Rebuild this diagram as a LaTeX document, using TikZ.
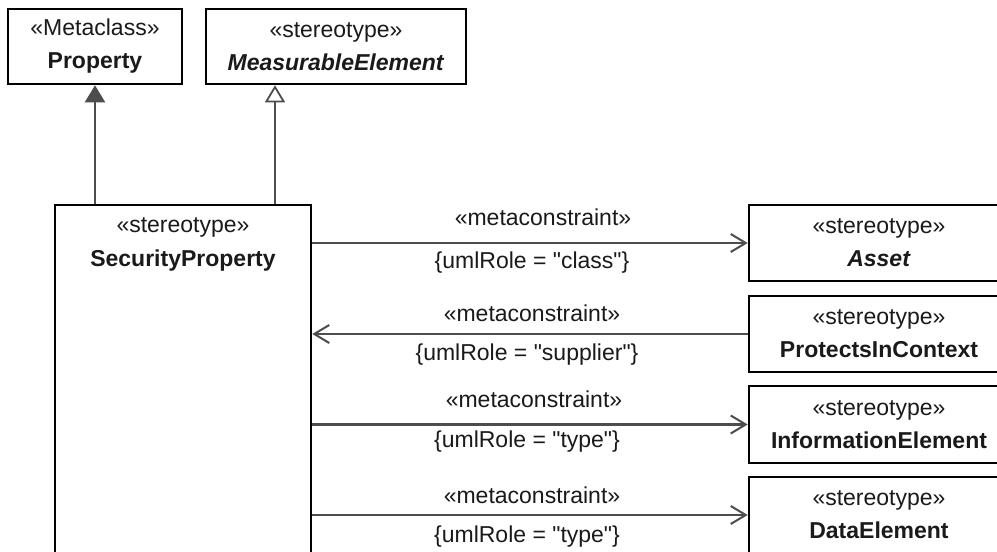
\documentclass[tikz,border=0pt]{standalone}
\usepackage{fontspec}
\setmainfont{Liberation Sans}[Ligatures=TeXOff]
\usetikzlibrary{arrows.meta}
\definecolor{conn}{HTML}{4D4D4D}
\definecolor{txt}{HTML}{1A1A1A}
\begin{document}
\begin{tikzpicture}[x=1pt,y=-1pt,
  umlbox/.style={draw=black,line width=2.6pt,rectangle,inner sep=0pt,align=center,
    text=txt,font=\fontsize{23}{33}\selectfont},
  lbl/.style={inner sep=0pt,text=txt,font=\fontsize{23}{28}\selectfont},
  conline/.style={draw=conn,line width=2.2pt},
  dep/.style={conline,-{Straight Barb[length=15pt,width=18pt,line width=2pt]}},
  genfill/.style={conline,-{Triangle[length=17pt,width=20pt,fill=conn]}},
  genopen/.style={conline,-{Triangle[open,length=17pt,width=20pt,fill=white,line width=1.8pt]}}
]
\useasboundingbox (0,0) rectangle (997,552);
\clip (0,0) rectangle (997,552);
\fill[white] (0,0) rectangle (997,552);

% top boxes
\node[umlbox,minimum width=174pt,minimum height=75pt] (prop) at (95,46.5)
  {«Metaclass»\\\textbf{Property}};
\node[umlbox,minimum width=260pt,minimum height=75pt] (meas) at (336,46.5)
  {«stereotype»\\\textbf{\textit{MeasurableElement}}};

% main box
\node[umlbox,minimum width=256pt,minimum height=360pt] (sec) at (183,385) {};
\node[lbl,align=center,font=\fontsize{23}{34}\selectfont] (sectxt) at (183,244)
  {«stereotype»\\\textbf{SecurityProperty}};

% right boxes
\node[umlbox,minimum width=260pt,minimum height=76pt] (asset) at (879,243)
  {«stereotype»\\\textbf{\textit{Asset}}};
\node[umlbox,minimum width=260pt,minimum height=76pt] (pic) at (879,334)
  {«stereotype»\\\textbf{ProtectsInContext}};
\node[umlbox,minimum width=260pt,minimum height=77pt] (info) at (879,424.5)
  {«stereotype»\\\textbf{InformationElement}};
\node[umlbox,minimum width=260pt,minimum height=76pt] (data) at (879,515)
  {«stereotype»\\\textbf{DataElement}};

% generalisation / extension arrows
\coordinate (gx) at (275,0);
\draw[genfill] (sec.north -| prop.south) -- (prop.south);
\draw[genopen] (sec.north -| gx) -- (gx |- meas.south);

% metaconstraint connectors
\draw[dep] (sec.east |- asset.west) -- (asset.west);
\draw[dep] (pic.west) -- (sec.east |- pic.west);
\draw[dep] (sec.east |- info.west) -- (info.west);
\draw[dep] (sec.east |- data.west) -- (data.west);

% labels
\node[lbl] (m1) at (543,217) {«metaconstraint»};
\node[lbl] (r1) at (532,263) {\{umlRole = "class"\}};
\node[lbl] (m2) at (532,313) {«metaconstraint»};
\node[lbl] (r2) at (527,355) {\{umlRole = "supplier"\}};
\node[lbl] (m3) at (534,399) {«metaconstraint»};
\node[lbl] (r3) at (527,442) {\{umlRole = "type"\}};
\node[lbl] (m4) at (532,495) {«metaconstraint»};
\node[lbl] (r4) at (527,537) {\{umlRole = "type"\}};
\end{tikzpicture}
\end{document}
